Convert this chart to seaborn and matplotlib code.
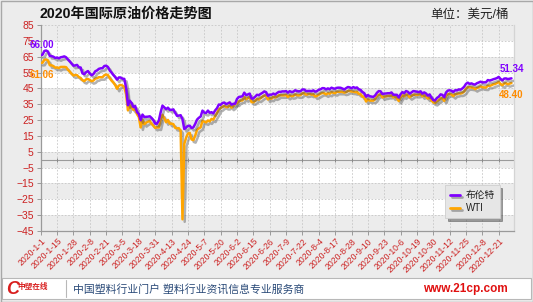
import matplotlib
matplotlib.use("Agg")
import numpy as np
import pandas as pd
import seaborn as sns
import matplotlib.pyplot as plt
from matplotlib import patheffects as pe
from matplotlib.patches import Rectangle
from matplotlib.lines import Line2D

# ---------------- data ----------------
tick_labels = ["2020-1-1", "2020-1-15", "2020-1-28", "2020-2-8", "2020-2-21", "2020-3-5",
               "2020-3-18", "2020-3-31", "2020-4-13", "2020-4-24", "2020-5-7", "2020-5-20",
               "2020-6-2", "2020-6-15", "2020-6-26", "2020-7-9", "2020-7-22", "2020-8-4",
               "2020-8-17", "2020-8-28", "2020-9-10", "2020-9-23", "2020-10-6", "2020-10-19",
               "2020-10-30", "2020-11-12", "2020-11-25", "2020-12-8", "2020-12-21"]

brent_jan = [66.00, 66.25, 68.60, 68.91, 68.27, 65.44, 65.37, 64.98, 64.20, 64.49, 64.00, 64.62,
             64.85, 65.20, 64.59, 63.21, 62.04, 60.69, 59.32, 59.51, 59.81, 58.29, 58.16]
brent_feb = [54.45, 53.96, 55.28, 55.93, 54.47, 53.27, 54.01, 55.79, 56.34, 57.32, 57.67, 57.75,
             59.12, 59.31, 58.50, 56.30, 54.95, 53.43, 52.18, 50.52]
brent_mar = [51.90, 51.86, 51.13, 50.99, 45.27, 34.36, 37.22, 35.79, 33.22, 33.85, 30.05, 28.73,
             24.88, 28.47, 26.98, 27.03, 27.15, 27.39, 26.34, 24.93, 22.76, 22.74]
brent_apr = [24.74, 29.94, 34.11, 33.05, 31.87, 32.84, 31.48, 31.48, 31.74, 29.60, 27.69, 27.82,
             28.08, 25.57, 19.33, 20.37, 21.33, 21.44, 19.99, 20.46, 22.54, 25.27]
brent_may = [26.44, 27.20, 30.97, 29.72, 29.46, 30.97, 29.63, 29.98, 29.19, 31.13, 32.50, 34.81,
             34.65, 35.75, 36.06, 35.13, 35.53, 36.17, 34.74, 35.29, 35.33]
brent_jun = [38.32, 39.57, 39.79, 39.99, 42.30, 40.80, 41.18, 41.73, 38.55, 38.73, 39.72, 40.96,
             40.71, 41.51, 42.19, 43.08, 42.63, 40.31, 41.05, 41.02, 41.71, 41.15]
brent_jul = [42.03, 42.80, 42.80, 43.10, 43.08, 43.29, 42.35, 43.24, 42.72, 42.90, 43.79, 43.37,
             43.14, 43.28, 44.32, 44.29, 43.31, 43.34, 43.41, 43.22, 43.75, 42.94, 43.30]
brent_aug = [44.15, 44.43, 45.17, 45.09, 44.40, 44.99, 44.50, 45.43, 44.96, 44.80, 45.37, 45.46,
             45.37, 44.90, 44.35, 45.13, 45.86, 45.64, 45.09, 45.81, 45.28]
brent_sep = [45.58, 44.43, 44.07, 42.66, 42.01, 39.78, 40.79, 40.06, 39.83, 39.61, 40.53, 42.22,
             43.30, 43.15, 41.44, 41.72, 41.77, 41.94, 41.92, 42.43, 41.03, 40.95]
brent_oct = [40.93, 39.27, 41.29, 42.65, 41.99, 43.34, 42.85, 41.72, 42.45, 43.32, 43.16, 42.93,
             42.62, 43.16, 41.73, 42.46, 41.77, 40.46, 41.20, 39.12, 37.65, 37.46]
brent_nov = [38.97, 39.71, 41.23, 40.93, 39.45, 42.40, 43.61, 43.80, 43.53, 42.78, 43.82, 43.75,
             44.34, 44.20, 44.96, 46.06, 47.86, 48.61, 47.80, 48.18, 47.59]
brent_dec = [47.42, 48.25, 48.71, 49.25, 48.79, 48.84, 48.86, 50.25, 49.97, 50.29, 50.76, 51.08,
             51.50, 52.26, 50.91, 50.08, 51.20, 51.29, 50.86, 51.09, 51.34]

wti_jan = [61.06, 61.18, 63.05, 63.27, 62.70, 59.61, 59.56, 59.04, 58.08, 58.23, 57.81, 58.52,
           58.54, 58.54, 58.38, 56.74, 55.59, 54.19, 53.14, 53.48, 53.33, 52.14, 51.56]
wti_feb = [50.11, 49.61, 50.75, 50.95, 50.32, 49.57, 49.94, 51.17, 51.42, 52.05, 52.05, 52.05,
           53.29, 53.78, 53.38, 51.43, 49.90, 48.73, 47.09, 44.76]
wti_mar = [46.75, 47.18, 46.78, 45.90, 41.28, 31.13, 34.36, 32.98, 31.50, 31.73, 28.70, 26.95,
           20.37, 25.22, 22.43, 23.36, 24.01, 24.49, 22.60, 21.51, 20.09, 20.48]
wti_apr = [20.31, 25.32, 28.34, 26.08, 23.63, 25.09, 22.76, 22.76, 22.41, 20.11, 19.87, 19.87,
           18.27, -37.63, 10.01, 13.78, 16.50, 16.94, 12.78, 12.34, 15.06, 18.84]
wti_may = [19.78, 20.39, 24.56, 23.99, 23.55, 24.74, 24.14, 25.78, 25.29, 27.56, 29.43, 31.82,
           32.50, 33.49, 33.92, 33.25, 33.25, 34.35, 32.81, 33.71, 35.49]
wti_jun = [35.44, 36.81, 37.29, 37.41, 39.55, 38.19, 38.94, 39.60, 36.34, 36.26, 37.12, 38.38,
           37.96, 38.84, 39.75, 40.46, 40.37, 38.01, 38.72, 38.49, 39.70, 39.27]
wti_jul = [39.82, 40.65, 40.65, 40.63, 40.62, 40.90, 39.62, 40.55, 40.10, 40.29, 41.20, 40.75,
           40.59, 40.81, 41.96, 41.90, 41.07, 41.29, 41.60, 41.04, 41.27, 39.92, 40.27]
wti_aug = [41.01, 41.70, 42.19, 41.95, 41.22, 41.94, 41.61, 42.67, 42.24, 42.01, 42.89, 42.89,
           42.93, 42.82, 42.34, 42.62, 43.35, 43.39, 43.04, 42.97, 42.61]
wti_sep = [42.76, 41.51, 41.37, 39.77, 39.77, 36.76, 38.05, 37.30, 37.33, 37.26, 38.28, 40.16,
           40.97, 41.11, 39.31, 39.80, 39.93, 40.31, 40.25, 40.60, 39.29, 40.22]
wti_oct = [38.72, 37.05, 39.22, 40.67, 39.95, 41.19, 40.60, 39.43, 40.20, 41.04, 40.96, 40.88,
           41.06, 41.46, 40.03, 40.64, 39.85, 38.56, 39.57, 37.39, 36.17, 35.79]
wti_nov = [36.81, 37.66, 38.79, 38.79, 37.14, 40.29, 41.36, 41.45, 41.12, 40.13, 41.34, 41.43,
           41.82, 41.74, 42.15, 43.06, 44.91, 45.71, 45.71, 45.53, 45.34]
wti_dec = [44.55, 45.28, 45.64, 46.26, 45.76, 45.60, 45.52, 46.78, 46.57, 46.99, 47.62, 47.82,
           48.36, 49.10, 47.74, 47.02, 48.12, 48.23, 47.62, 48.00, 48.40]

brent = (brent_jan + brent_feb + brent_mar + brent_apr + brent_may + brent_jun + brent_jul
         + brent_aug + brent_sep + brent_oct + brent_nov + brent_dec)
wti = (wti_jan + wti_feb + wti_mar + wti_apr + wti_may + wti_jun + wti_jul
       + wti_aug + wti_sep + wti_oct + wti_nov + wti_dec)

series_names = ["布伦特", "WTI"]
label_step = 9

# ---------------- style ----------------
sns.set_theme(style="white")
plt.rcParams["font.family"] = ["Liberation Sans", "Noto Sans CJK SC", "DejaVu Sans"]

W, H = 533, 302
BG = "#ececec"
PURPLE = "#7f00ff"
ORANGE = "#ffa500"
RED = "#cc2222"

fig = plt.figure(figsize=(W / 100, H / 100), dpi=100, facecolor=BG)

def fx(px):
    return px / W

def fy(py):
    return 1 - py / H

ax_l, ax_r, ax_t, ax_b = 40.7, 514.0, 25.0, 231.0
ax = fig.add_axes([fx(ax_l), fy(ax_b), fx(ax_r - ax_l), (ax_b - ax_t) / H])
ax.set_facecolor(BG)

n = len(brent)
df = pd.DataFrame({"idx": np.arange(n), "brent": brent, "wti": wti[:n]})

ymin, ymax = -45, 85
ax.set_ylim(ymin, ymax)
ax.set_xlim(0, 260.4)

# alternating bands
for lo in range(ymin + 10, ymax, 20):
    ax.axhspan(lo, lo + 10, color="white", zorder=0, lw=0)

yt = np.arange(ymin, ymax + 1, 10)
xt = np.arange(0, len(tick_labels) * label_step, label_step)
ax.set_yticks(yt)
ax.set_xticks(xt)
ax.set_xticklabels(tick_labels)
ax.grid(True, color="#c6c6c6", linestyle=(0, (2, 2)), linewidth=0.6, zorder=1)
ax.set_axisbelow(True)

ax.axhline(0, color="#9a9a9a", lw=0.8, zorder=2)
ax.scatter(xt, np.zeros_like(xt), marker="|", s=6, color="#8a8a8a", lw=0.7, zorder=2)

shadow = [pe.SimpleLineShadow(offset=(1.6, -1.8), shadow_color="#555555", alpha=0.45),
          pe.Normal()]

sns.lineplot(data=df, x="idx", y="wti", color=ORANGE, lw=1.8, ax=ax, label=series_names[1],
             path_effects=shadow, zorder=4)
sns.lineplot(data=df, x="idx", y="brent", color=PURPLE, lw=1.8, ax=ax, label=series_names[0],
             path_effects=shadow, zorder=5)

ax.set_xlabel("")
ax.set_ylabel("")

ax.spines["top"].set_visible(False)
ax.spines["left"].set_color("#9a9a9a")
ax.spines["bottom"].set_color("#9a9a9a")
ax.spines["right"].set_color("#d4d4d4")
for s in ["left", "bottom", "right"]:
    ax.spines[s].set_linewidth(0.9)

ax.tick_params(axis="y", labelsize=7.5, labelcolor=RED, length=3, width=0.7,
               color="#9a9a9a", pad=2, left=True)
ax.tick_params(axis="x", labelsize=6.2, labelcolor=RED, length=3, width=0.7,
               color="#9a9a9a", pad=1, bottom=True)
plt.setp(ax.get_xticklabels(), rotation=45, ha="right", rotation_mode="anchor")

# end-value annotations
ax.annotate(f"{brent[0]:.2f}", xy=(0, brent[0]), xytext=(1, 7), textcoords="offset points",
            ha="center", va="center", color=PURPLE, fontsize=7, fontweight="bold")
ax.annotate(f"{wti[0]:.2f}", xy=(0, wti[0]), xytext=(1, -9), textcoords="offset points",
            ha="center", va="center", color="#ff8c00", fontsize=7, fontweight="bold")
ax.annotate(f"{brent[-1]:.2f}", xy=(n - 1, brent[-1]), xytext=(0, 7), textcoords="offset points",
            ha="center", va="center", color=PURPLE, fontsize=7, fontweight="bold",
            annotation_clip=False)
ax.annotate(f"{wti[-1]:.2f}", xy=(n - 1, wti[-1]), xytext=(0, -9), textcoords="offset points",
            ha="center", va="center", color="#ff8c00", fontsize=7, fontweight="bold",
            annotation_clip=False)

handles = [Line2D([], [], color=PURPLE, lw=2, path_effects=shadow),
           Line2D([], [], color=ORANGE, lw=2, path_effects=shadow)]
leg = ax.legend(handles, series_names, loc="lower right", bbox_to_anchor=(0.98, 0.04),
                fontsize=7, frameon=True, fancybox=False, shadow=True,
                facecolor="#e6e6e6", edgecolor="#cfcfcf", handlelength=1.0,
                handletextpad=0.6, borderpad=0.5, labelspacing=0.3)
leg.get_frame().set_linewidth(0.6)
for t in leg.get_texts():
    t.set_color("#222222")

# titles
fig.text(fx(39), fy(14), "2020年国际原油价格走势图", fontsize=10.2, fontweight="bold",
         ha="left", va="center", color="#111111")
fig.text(fx(509), fy(15), "单位：美元/桶", fontsize=9, ha="right", va="center", color="#222222")

# footer
fig.add_artist(Rectangle((fx(2), fy(299)), fx(529), (299 - 278) / H, transform=fig.transFigure,
                         facecolor="white", edgecolor="#b8b8b8", lw=0.8))
fig.add_artist(Line2D([fx(65.5), fx(65.5)], [fy(297), fy(280)], transform=fig.transFigure,
                      color="#b8b8b8", lw=0.8))
fig.text(fx(6), fy(289), "C", fontsize=13, fontweight="bold", style="italic", color="#d81e1e",
         ha="left", va="center")
fig.text(fx(17), fy(287), "中塑在线", fontsize=5.5, fontweight="bold", style="italic",
         color="#d81e1e", ha="left", va="center")
fig.text(fx(73), fy(289), "中国塑料行业门户 塑料行业资讯信息专业服务商", fontsize=7.8,
         color="#2a4a78", ha="left", va="center")
fig.text(fx(508), fy(289), "www.21cp.com", fontsize=8.5, fontweight="bold", color="#e01010",
         ha="right", va="center")

fig.add_artist(Rectangle((fx(0.5), fy(301.5)), fx(532), 301 / H, transform=fig.transFigure,
                         fill=False, edgecolor="#a8a8a8", lw=1.0))

fig.savefig("out.png", dpi=100, facecolor=BG)
